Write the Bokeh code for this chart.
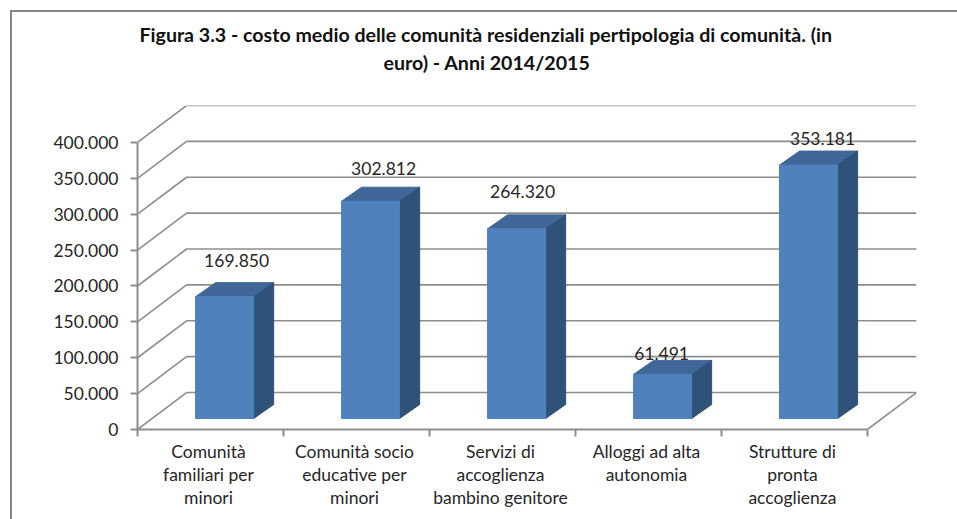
from bokeh.plotting import figure
from bokeh.models import Range1d, FixedTicker, LinearAxis, Title, ColumnDataSource
from bokeh.core.properties import value
from bokeh.embed import file_html
from bokeh.resources import INLINE

categories = ["Comunità\nfamiliari per\nminori", "Comunità socio\neducative per\nminori",
              "Servizi di\naccoglienza\nbambino genitore", "Alloggi ad alta\nautonomia",
              "Strutture di\npronta\naccoglienza"]
values = [169850, 302812, 264320, 61491, 353181]
value_labels = ["169.850", "302.812", "264.320", "61.491", "353.181"]
y_ticks = [0, 50000, 100000, 150000, 200000, 250000, 300000, 350000, 400000]
y_tick_labels = ["0", "50.000", "100.000", "150.000", "200.000", "250.000", "300.000", "350.000", "400.000"]
title_lines = ["Figura 3.3 - costo medio delle comunità residenziali pertipologia di comunità. (in",
               "euro) - Anni 2014/2015"]

FONT = "Lato"
TEXT = "#262626"
GRID = "#8e8e8e"
PX_X = 5 / 729          # category units per pixel
PX_Y = 50000 / 35.9     # value units per pixel
DX, DY = 49 * PX_X, 37 * PX_Y            # wall depth
BAR_X0, BAR_X1 = 58 * PX_X, 116 * PX_X   # bar front inside a category
BAR_SY = 11 * PX_Y                       # bar lift over the axis
BDX, BDY = 20 * PX_X, 14 * PX_Y          # bar depth
XMAX, YMAX = 5 + DX, 400000 + DY
label_dx = [41, 42, 35, 28, 43]
label_dy = [36, 33, 37, 21, 27]

p = figure(width=957, height=519, output_backend="svg", toolbar_location=None,
           x_range=Range1d(0, XMAX), y_range=Range1d(0, YMAX),
           min_border_left=137, min_border_right=41, min_border_bottom=90, min_border_top=105,
           frame_width=779, frame_height=324, x_axis_location=None, y_axis_location=None)
p.outline_line_color = None
p.grid.visible = False
p.background_fill_alpha = 0
p.border_fill_alpha = 0
# chart border (top and left edges; the frame runs off the page on the other sides)
p.styles = {"background": "linear-gradient(#868686,#868686) 10px 10px/2px 100% no-repeat, "
                          "linear-gradient(#868686,#868686) 10px 10px/100% 2px no-repeat"}

# titles (a blank title keeps the gap between the heading and the plot)
p.add_layout(Title(text=" ", text_font_size="10px", standoff=17), "above")
p.add_layout(Title(text=title_lines[1], align="left", offset=246, text_font=FONT, text_font_size="19.6px",
                   text_font_style="bold", text_color="#111111", standoff=3), "above")
p.add_layout(Title(text=title_lines[0], align="left", offset=2, text_font=FONT, text_font_size="19.6px",
                   text_font_style="bold", text_color="#111111", standoff=3), "above")

# walls
for v in y_ticks:
    p.line([0, DX, XMAX], [v, v + DY, v + DY], line_color=GRID, line_width=1.6)
p.line([XMAX, 5], [DY, 0], line_color=GRID, line_width=1.6)

# bars
x0 = [i + BAR_X0 for i in range(5)]
x1 = [i + BAR_X1 for i in range(5)]
tops = [v + BAR_SY for v in values]
p.patches([[a, a + BDX, b + BDX, b] for a, b in zip(x0, x1)],
          [[t, t + BDY, t + BDY, t] for t in tops], fill_color="#3f6797", line_color="#3f6797")
p.patches([[b, b + BDX, b + BDX, b] for b in x1],
          [[BAR_SY, BAR_SY + BDY, t + BDY, t] for t in tops], fill_color="#2f5279", line_color="#2f5279")
p.quad(left=x0, right=x1, bottom=BAR_SY, top=tops, fill_color="#4f81bd", line_color="#4f81bd")

# value labels
src = ColumnDataSource(dict(x=[a + d * PX_X for a, d in zip(x0, label_dx)],
                            y=[t + d * PX_Y for t, d in zip(tops, label_dy)], t=value_labels))
p.text(x="x", y="y", text="t", source=src, text_font=value(FONT), text_font_size="17.5px", text_color=TEXT,
       text_align="center", text_baseline="middle")

# axes
yax = LinearAxis(bounds=(0, 400000), ticker=FixedTicker(ticks=y_ticks),
                 major_label_overrides=dict(zip(y_ticks, y_tick_labels)),
                 major_label_text_font=FONT, major_label_text_font_size="17.5px", major_label_text_color=TEXT,
                 axis_line_color=GRID, axis_line_width=2, major_tick_line_color=GRID, major_tick_line_width=2,
                 major_tick_in=0, major_tick_out=7, minor_tick_line_color=None, major_label_standoff=12)
p.add_layout(yax, "left")
cats = [i + 0.5 - 2 * PX_X for i in range(5)]
xax = LinearAxis(bounds=(0, 5), ticker=FixedTicker(ticks=cats, minor_ticks=[0, 1, 2, 3, 4, 5]),
                 major_label_overrides=dict(zip(cats, categories)),
                 major_label_text_font=FONT, major_label_text_font_size="17.5px", major_label_text_color=TEXT,
                 major_label_text_line_height=1.11, axis_line_color=GRID, axis_line_width=2,
                 major_tick_line_color=None, major_tick_in=0, major_tick_out=0,
                 minor_tick_line_color=GRID, minor_tick_line_width=2, minor_tick_in=0, minor_tick_out=7,
                 major_label_standoff=4)
p.add_layout(xax, "below")

open("out.html", "w").write(file_html(p, INLINE))
